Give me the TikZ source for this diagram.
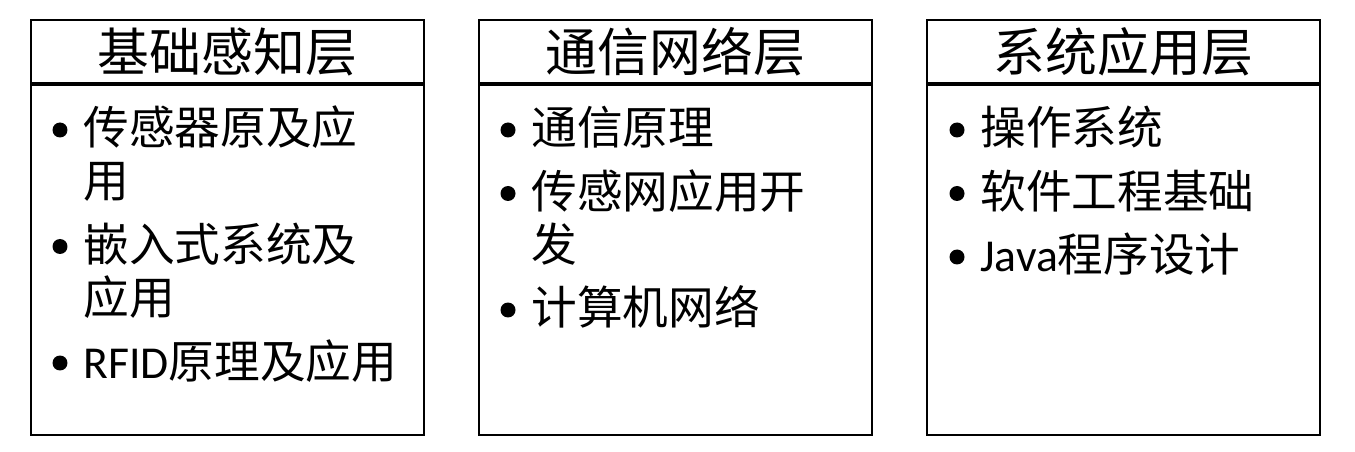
\documentclass[tikz,border=0pt]{standalone}
\usepackage{fontspec}
\setmainfont{Noto Sans CJK SC}
\newfontfamily\latinfont{Carlito}
\usetikzlibrary{positioning}
\tikzset{%
    titlebox/.style={draw, line width=0.04cm, minimum width=7.86cm, minimum height=1.26cm, inner sep=0pt, font=\fontsize{29.5}{34}\selectfont},
    bodybox/.style={draw, line width=0.04cm, minimum width=7.86cm, minimum height=7cm, inner sep=0pt},
    dot/.style={circle, fill, inner sep=0pt, minimum size=0.3cm},
    entry/.style={anchor=base west, inner sep=0pt, align=left, font=\fontsize{26}{30.2}\selectfont},
}

\begin{document}
\begin{tikzpicture}[x=0.02cm, y=-0.02cm]
	\useasboundingbox (0,0) rectangle (1355,452);

	\node[titlebox] (t1) at (227.5,51.5) {基础感知层};
	\node[titlebox] (t2) at (675.5,51.5) {通信网络层};
	\node[titlebox] (t3) at (1123.5,51.5) {系统应用层};

	\node[bodybox, below=0pt of t1] (c1) {};
	\node[bodybox, below=0pt of t2] (c2) {};
	\node[bodybox, below=0pt of t3] (c3) {};

	% two-line entries sit on the baseline of their last line
	\node[dot] (d11) at (60,130) {};
	\node[dot] (d12) at (60,246.5) {};
	\node[dot] (d13) at (60,363) {};
	\node[entry] (e11) at (83,198) {传感器原及应\\用};
	\node[entry] (e12) at (83,314.5) {嵌入式系统及\\应用};
	\node[entry] (e13) at (83,378) {{\latinfont RFID}原理及应用};

	\node[dot] (d21) at (508,130) {};
	\node[dot] (d22) at (508,193.5) {};
	\node[dot] (d23) at (508,310) {};
	\node[entry] (e21) at (531,145) {通信原理};
	\node[entry] (e22) at (531,261.5) {传感网应用开\\发};
	\node[entry] (e23) at (531,325) {计算机网络};

	\node[dot] (d31) at (957,130) {};
	\node[dot] (d32) at (957,193.5) {};
	\node[dot] (d33) at (957,257) {};
	\node[entry] (e31) at (980,145) {操作系统};
	\node[entry] (e32) at (980,208.5) {软件工程基础};
	\node[entry] (e33) at (980,272) {{\latinfont Java}程序设计};
\end{tikzpicture}
\end{document}
